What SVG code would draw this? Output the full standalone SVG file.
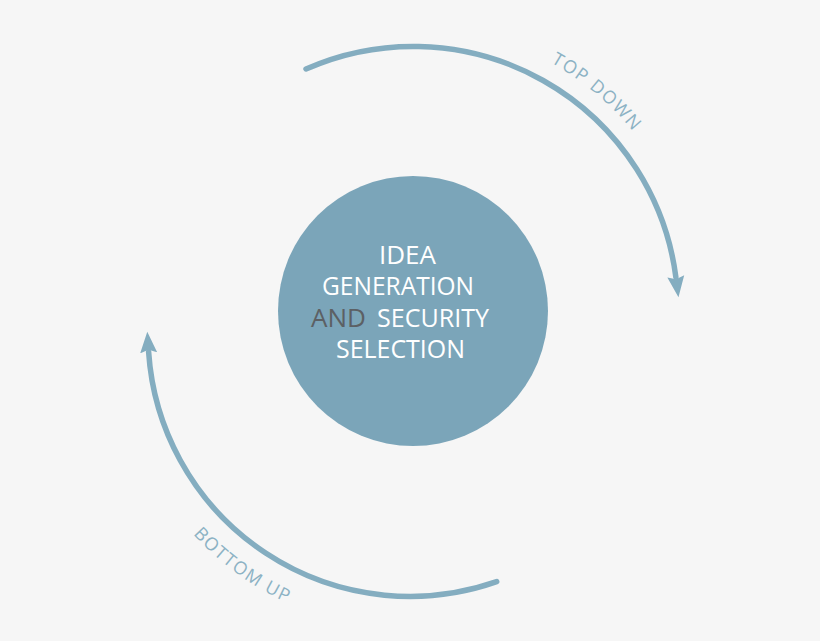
<svg xmlns="http://www.w3.org/2000/svg" width="820" height="641" viewBox="0 0 820 641">
<style>
.arc{fill:none;stroke:#84adc0;stroke-width:5.5;stroke-linecap:round}
.ctext{font-family:"Open Sans","Liberation Sans",sans-serif;font-size:25px;fill:#ffffff}
.dark{fill:#5c6064}
.lbl{font-family:"Open Sans","Liberation Sans",sans-serif;font-size:18px;fill:#8cb2c4;letter-spacing:1.5px}
</style>
<defs>
<marker id="ah" viewBox="0 -9 22 18" markerUnits="userSpaceOnUse" markerWidth="22" markerHeight="18" refX="1" refY="0" orient="auto">
<path d="M0,-8.5 L21,0 L0,8.5 L3,0 Z" fill="#84adc0"/>
</marker>
<path id="tpTop" d="M462.3,31.3 A284,284 0 0 1 679.9,213.9"/>
<path id="tpBot" d="M139.5,451.6 A296,296 0 0 0 376.6,628.1"/>
</defs>
<rect width="820" height="641" fill="#f6f6f6"/>
<g id="connectors">
<path id="top-down" class="arc" d="M306,69 A265,265 0 0 1 675.9,277.3" marker-end="url(#ah)"/>
<path id="bottom-up" class="arc" d="M496.7,581.7 A262,262 0 0 1 148.6,351.8" marker-end="url(#ah)"/>
<text class="lbl"><textPath href="#tpTop" startOffset="50%" text-anchor="middle">TOP DOWN</textPath></text>
<text class="lbl"><textPath href="#tpBot" startOffset="51%" text-anchor="middle">BOTTOM UP</textPath></text>
</g>
<g id="node-center">
<circle cx="413" cy="311" r="135" fill="#7ba5b9"/>
<text class="ctext" x="379" y="264" textLength="57" lengthAdjust="spacingAndGlyphs">IDEA</text>
<text class="ctext" x="322" y="295" textLength="152" lengthAdjust="spacingAndGlyphs">GENERATION</text>
<text class="ctext dark" x="311" y="327" textLength="55" lengthAdjust="spacingAndGlyphs">AND</text>
<text class="ctext" x="377" y="327" textLength="112" lengthAdjust="spacingAndGlyphs">SECURITY</text>
<text class="ctext" x="336" y="358" textLength="129" lengthAdjust="spacingAndGlyphs">SELECTION</text>
</g>
</svg>
